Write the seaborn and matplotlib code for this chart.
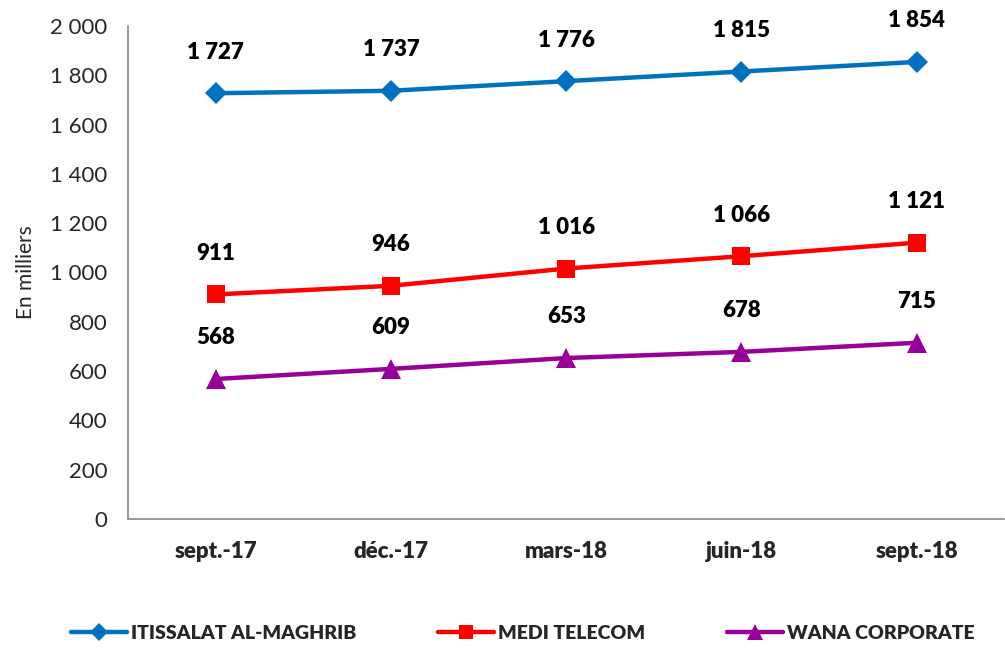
import matplotlib
matplotlib.use("Agg")
import matplotlib.pyplot as plt
from matplotlib.lines import Line2D
import seaborn as sns
import pandas as pd
from matplotlib.ticker import FuncFormatter, FixedLocator

categories = ["sept.-17", "déc.-17", "mars-18", "juin-18", "sept.-18"]
itissalat = [1727, 1737, 1776, 1815, 1854]
medi = [911, 946, 1016, 1066, 1121]
wana = [568, 609, 653, 678, 715]
series_names = ["ITISSALAT AL-MAGHRIB", "MEDI TELECOM", "WANA CORPORATE"]

sns.set_style("white")
plt.rcParams['font.family'] = ['Lato', 'DejaVu Sans']

rows = []
for name, vals in zip(series_names, [itissalat, medi, wana]):
    for i, v in enumerate(vals):
        rows.append({"x": i, "cat": categories[i], "value": v, "series": name})
df = pd.DataFrame(rows)

colors = {"ITISSALAT AL-MAGHRIB": "#0070C0", "MEDI TELECOM": "#FF0000", "WANA CORPORATE": "#990099"}
markers = {"ITISSALAT AL-MAGHRIB": "D", "MEDI TELECOM": "s", "WANA CORPORATE": "^"}
msizes = {"ITISSALAT AL-MAGHRIB": 11, "MEDI TELECOM": 12.5, "WANA CORPORATE": 14}

fig = plt.figure(figsize=(10.05, 6.48), dpi=100)
ax = fig.add_axes([0.1274, 0.199, 0.872, 0.761])

for name in series_names:
    sub = df[df.series == name]
    sns.lineplot(data=sub, x="x", y="value", ax=ax, color=colors[name], linewidth=3.2,
                 marker=markers[name], markersize=msizes[name], markeredgewidth=0,
                 legend=False)
    for xv, yv in zip(sub.x, sub.value):
        ax.annotate(f"{yv:,}".replace(",", " "), (xv, yv), xytext=(0, 22),
                    textcoords="offset points", ha="center", va="bottom",
                    fontsize=16, fontweight="heavy", color="black")

ax.set_xlim(-0.5, 4.5)
ax.set_ylim(0, 2000)
ax.set_yticks(range(0, 2001, 200))
ax.yaxis.set_major_formatter(FuncFormatter(lambda v, p: f"{int(v):,}".replace(",", " ")))
ax.set_xticks(range(5))
ax.set_xticklabels(categories, fontsize=16, fontweight="heavy")
ax.xaxis.set_minor_locator(FixedLocator([-0.5, 0.5, 1.5, 2.5, 3.5, 4.5]))
ax.tick_params(axis="x", which="major", length=0, pad=16)
ax.tick_params(axis="x", which="minor", length=7, color="#888888", width=1.2, direction="out")
ax.tick_params(axis="y", length=7, color="#888888", width=1.2, direction="out", labelsize=16, pad=8)
ax.set_xlabel("")
ax.set_ylabel("En milliers", fontsize=15, labelpad=10)
for s in ["top", "right"]:
    ax.spines[s].set_visible(False)
for s in ["left", "bottom"]:
    ax.spines[s].set_color("#888888")
    ax.spines[s].set_linewidth(1.2)

leg_handles = [Line2D([], [], color=colors[n], linewidth=3.2, marker=markers[n],
                      markersize=msizes[n] - 2, markeredgewidth=0) for n in series_names]
fig.legend(leg_handles, series_names, loc="lower center", bbox_to_anchor=(0.52, -0.018), ncol=3,
           frameon=False, prop={"weight": "heavy", "size": 14}, columnspacing=4.2,
           handlelength=2.9, handletextpad=0.2)

fig.savefig("out.png", dpi=100)
